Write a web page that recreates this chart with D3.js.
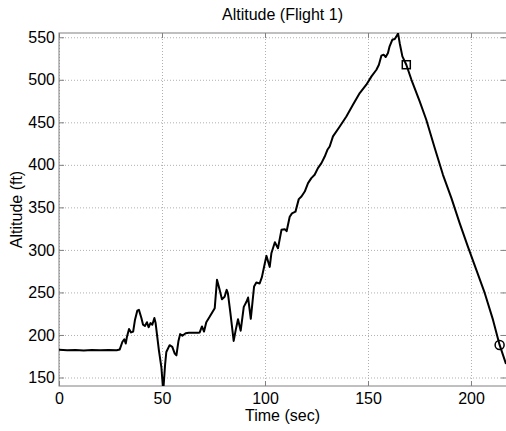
<!DOCTYPE html>
<html>
<head>
<meta charset="utf-8">
<script src="https://cdn.jsdelivr.net/npm/d3@7"></script>
<style>
    body { margin: 0; background: #fff; }
    svg { display: block; font-family: "Liberation Sans", Arial, sans-serif; }
</style>
</head>
<body>
<div id="chart"></div>
<script>
// Flight 1 altitude trace
const timeSec = [0, 4, 8, 12, 16, 20, 24, 28, 29.5, 30.8, 31.7, 32.4, 33, 34, 35, 36, 36.9, 38, 38.8, 40,
    40.8, 41.7, 42.7, 43.5, 44.4, 45.3, 46.3, 46.9, 48.5, 49.7, 50.6, 51.5, 52.1, 53.7, 55, 56.2, 57, 58, 58.8, 59.9,
    61.5, 63, 67.5, 68.3, 69.4, 70.4, 71.5, 73.2, 75.6, 76.7, 78, 79.1, 80.4, 81.4, 82, 83.2, 84.8, 85.8, 86.9, 88.2,
    89.7, 91, 91.8, 93.1, 93.7, 94.7, 95.8, 97.4, 98.5, 99.9, 100.7, 102.3, 103.1, 104.8, 106.3, 108, 109.6, 110.5, 112, 113.1,
    114.8, 116.4, 117.7, 119.3, 120.9, 122.5, 124.1, 125.7, 127.4, 129, 130.3, 131.4, 133, 136.3, 139.5, 142.7, 146, 149.2,
    151.7, 154.1, 155.3, 156.5, 157.6, 158.6, 159.7, 160.5, 161.8, 163, 163.8, 164.6, 165.4, 166.7, 168.6, 171.1,
    175.1, 178.3, 182.4, 186.4, 190.5, 194.5, 198.5, 202.6, 206.7, 210.7, 213.9, 217];
const altitudeFt = [182.5, 182, 182.3, 181.8, 182.4, 182, 182.3, 182, 183, 192, 195, 190, 198, 207, 203, 204, 218, 228.6, 229.5, 220,
    212, 210.6, 215, 209, 214, 212, 220, 214, 182, 162, 134, 165, 180, 188, 186, 178, 176, 193, 201, 199,
    202, 202.5, 202.5, 203, 210, 204, 215, 221.6, 231.5, 264.8, 253, 242, 245, 253, 249, 226, 193, 206, 218.5, 205,
    233, 239, 244, 219, 233, 257, 261.6, 260.5, 268, 284, 293, 280, 296, 309, 302, 323.6, 324.4, 322, 339, 343,
    345, 359.7, 362.8, 368.6, 378.5, 384.4, 388.3, 396.2, 402, 409.8, 417.7, 421.6, 433.4, 445.1, 456.9, 470.6, 484.4, 494.2,
    504, 511.8, 517.7, 528.3, 529.5, 526.8, 531.5, 539.3, 547, 548, 551, 554.5, 543, 527.5, 517.7, 500,
    474.5, 453, 419.7, 388.3, 360.9, 331.5, 303.9, 276.5, 249.1, 217.7, 188.3, 166];

// Event markers on the descent
const squareMark = [168.6, 517.7];
const circleMark = [213.9, 188.3];

const xTicks = [0, 50, 100, 150, 200];
const yTicks = [150, 200, 250, 300, 350, 400, 450, 500, 550];
const xDomain = [0, 217];
const yDomain = [140, 555];

const W = 506, H = 431;
const margin = { top: 33, right: 0, bottom: 45, left: 59 };
const width = W - margin.left - margin.right;
const height = H - margin.top - margin.bottom;

const svg = d3.select("#chart").append("svg")
    .attr("width", W)
    .attr("height", H);

const g = svg.append("g")
    .attr("transform", `translate(${margin.left},${margin.top})`);

const x = d3.scaleLinear().domain(xDomain).range([0, width]);
const y = d3.scaleLinear().domain(yDomain).range([height, 0]);

g.append("clipPath").attr("id", "plot-clip")
    .append("rect")
    .attr("width", width)
    .attr("height", height);

// Dotted grid
g.append("g")
    .call(d3.axisBottom(x).tickValues(xTicks).tickSize(height).tickFormat(""))
    .call(a => a.select(".domain").remove())
    .selectAll("line")
    .attr("stroke", "#b0b0b0")
    .attr("stroke-dasharray", "1,2");

g.append("g")
    .call(d3.axisLeft(y).tickValues(yTicks).tickSize(-width).tickFormat(""))
    .call(a => a.select(".domain").remove())
    .selectAll("line")
    .attr("stroke", "#b0b0b0")
    .attr("stroke-dasharray", "1,2");

// Box and inward ticks
g.append("rect")
    .attr("width", width + 1)
    .attr("height", height)
    .attr("fill", "none")
    .attr("stroke", "#808080");

const tickLen = 5;
g.append("g")
    .attr("transform", `translate(0,${height})`)
    .call(d3.axisBottom(x).tickValues(xTicks).tickSizeInner(-tickLen).tickSizeOuter(0).tickPadding(7))
    .call(a => a.select(".domain").remove())
    .call(a => a.selectAll("line").attr("stroke", "#808080"))
    .selectAll("text")
    .attr("font-size", "16px")
    .attr("fill", "#000");

g.append("g")
    .call(d3.axisTop(x).tickValues(xTicks).tickSizeInner(-tickLen).tickSizeOuter(0).tickFormat(""))
    .call(a => a.select(".domain").remove())
    .selectAll("line").attr("stroke", "#808080");

g.append("g")
    .call(d3.axisLeft(y).tickValues(yTicks).tickSizeInner(-tickLen).tickSizeOuter(0).tickPadding(4))
    .call(a => a.select(".domain").remove())
    .call(a => a.selectAll("line").attr("stroke", "#808080"))
    .selectAll("text")
    .attr("font-size", "16px")
    .attr("fill", "#000");

g.append("g")
    .attr("transform", `translate(${width},0)`)
    .call(d3.axisRight(y).tickValues(yTicks).tickSizeInner(-tickLen).tickSizeOuter(0).tickFormat(""))
    .call(a => a.select(".domain").remove())
    .selectAll("line").attr("stroke", "#808080");

// Altitude line
const points = timeSec.map((t, i) => [t, altitudeFt[i]]);
const line = d3.line()
    .x(d => x(d[0]))
    .y(d => y(d[1]));

g.append("path")
    .datum(points)
    .attr("clip-path", "url(#plot-clip)")
    .attr("fill", "none")
    .attr("stroke", "#000")
    .attr("stroke-width", 2)
    .attr("stroke-linejoin", "round")
    .attr("d", line);

// Markers
g.append("rect")
    .attr("x", x(squareMark[0]) - 4)
    .attr("y", y(squareMark[1]) - 4)
    .attr("width", 8)
    .attr("height", 8)
    .attr("fill", "none")
    .attr("stroke", "#000")
    .attr("stroke-width", 1.5);

g.append("circle")
    .attr("cx", x(circleMark[0]))
    .attr("cy", y(circleMark[1]))
    .attr("r", 4.5)
    .attr("fill", "none")
    .attr("stroke", "#000")
    .attr("stroke-width", 1.5);

// Titles
svg.append("text")
    .attr("x", margin.left + width / 2)
    .attr("y", 20)
    .attr("text-anchor", "middle")
    .attr("font-size", "16px")
    .text("Altitude (Flight 1)");

svg.append("text")
    .attr("x", margin.left + width / 2)
    .attr("y", 421)
    .attr("text-anchor", "middle")
    .attr("font-size", "16px")
    .text("Time (sec)");

svg.append("text")
    .attr("transform", `translate(22,${margin.top + height / 2}) rotate(-90)`)
    .attr("text-anchor", "middle")
    .attr("font-size", "16px")
    .text("Altitude (ft)");
</script>
</body>
</html>
